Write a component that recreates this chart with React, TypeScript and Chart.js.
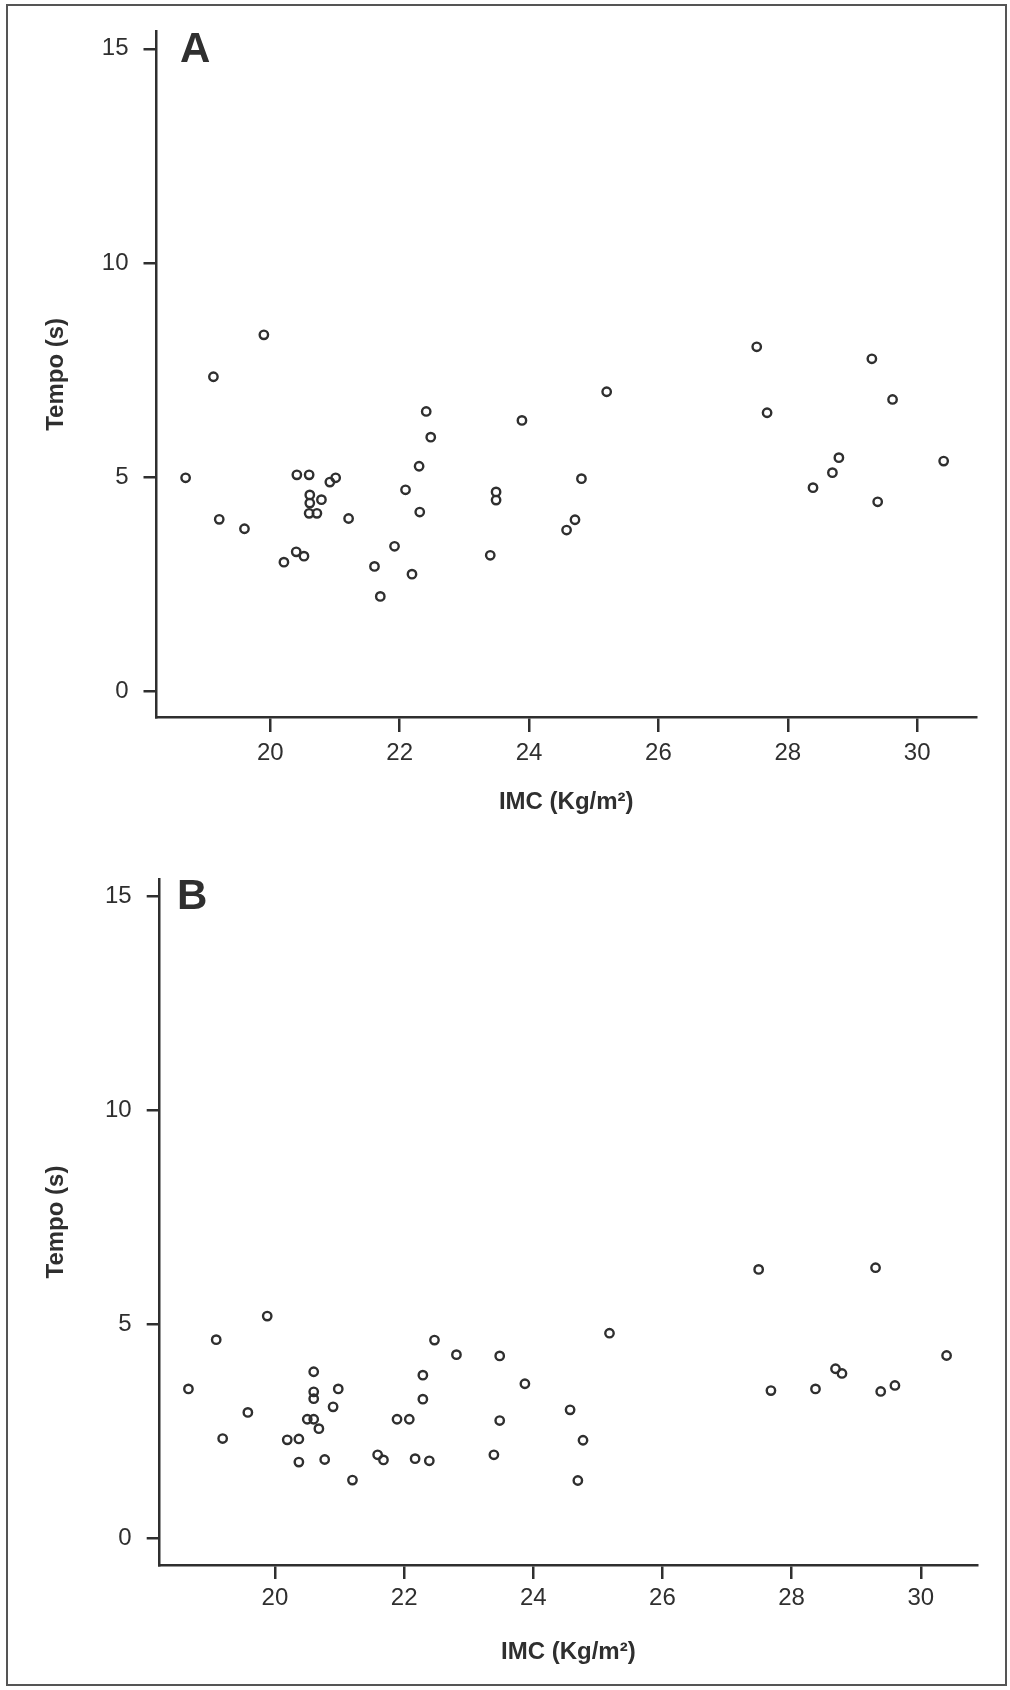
import React, { useEffect, useRef } from 'react';
import { Chart, registerables } from 'chart.js';

Chart.register(...registerables);

// ---- Data ----
const xTicks = [20, 22, 24, 26, 28, 30];
const yTicks = [0, 5, 10, 15];
const xTitle = 'IMC (Kg/m²)';
const yTitle = 'Tempo (s)';
const panelLetters = ['A', 'B'];

const imcA = [18.69, 19.12, 19.21, 19.6, 19.9, 20.21, 20.4, 20.52, 20.41, 20.6, 20.61, 20.61, 20.79, 20.6, 20.72, 20.92, 21.01, 21.21, 21.61, 21.7, 21.92, 22.19, 22.09, 22.3, 22.31, 22.41, 22.48, 23.4, 23.49, 23.49, 23.89, 24.58, 24.71, 24.81, 25.2, 27.52, 27.68, 28.39, 28.69, 28.79, 29.3, 29.62, 29.39, 30.41];
const tempoA = [4.98, 7.34, 4.01, 3.79, 8.32, 3.01, 3.25, 3.15, 5.05, 5.05, 4.58, 4.39, 4.47, 4.15, 4.15, 4.88, 4.98, 4.03, 2.91, 2.21, 3.38, 2.73, 4.7, 5.25, 4.18, 6.53, 5.93, 3.17, 4.65, 4.46, 6.32, 3.76, 4.0, 4.96, 6.99, 8.04, 6.5, 4.75, 5.1, 5.45, 7.76, 6.81, 4.42, 5.37];

const imcB = [19.88, 19.09, 18.66, 19.58, 19.19, 20.19, 20.37, 20.37, 20.5, 20.6, 20.6, 20.6, 20.6, 20.68, 20.77, 20.9, 20.98, 21.2, 21.59, 21.68, 21.89, 22.08, 22.17, 22.29, 22.29, 22.39, 22.47, 22.81, 23.39, 23.48, 23.48, 23.87, 24.57, 24.77, 24.69, 25.18, 27.49, 27.68, 28.37, 28.68, 28.78, 29.3, 29.38, 29.6, 30.4];
const tempoB = [5.19, 4.64, 3.49, 2.94, 2.33, 2.3, 2.32, 1.78, 2.78, 2.78, 3.89, 3.42, 3.26, 2.56, 1.84, 3.07, 3.49, 1.36, 1.95, 1.83, 2.78, 2.78, 1.86, 3.81, 3.25, 1.81, 4.63, 4.29, 1.95, 4.26, 2.75, 3.61, 3.0, 2.29, 1.35, 4.79, 6.28, 3.45, 3.49, 3.96, 3.85, 6.32, 3.43, 3.57, 4.27];

const FONT = "'Liberation Sans', Arial, Helvetica, sans-serif";
const INK = '#2f2f2f';

type Geom = {
  top: number;
  padTop: number;
  padRight: number;
  yAxisW: number;
  xAxisH: number;
  xMin: number;
  xMax: number;
  yMin: number;
  yMax: number;
  xTickLen: number;
  xTickPad: number;
  yTickLen: number;
  yTickPad: number;
  xTitlePadBottom: number;
  yTitlePadTop: number;
  letterX: number;
  letterY: number;
};

const geomA: Geom = {
  top: 0, padTop: 31.7, padRight: 34, yAxisW: 156.5, xAxisH: 128,
  xMin: 18.24, xMax: 30.91, yMin: -0.607, yMax: 15.4,
  xTickLen: 15, xTickPad: 6.5, yTickLen: 13, yTickPad: 15,
  xTitlePadBottom: 28.6, yTitlePadTop: 42, letterX: 180, letterY: 62,
};

const geomB: Geom = {
  top: 845, padTop: 34, padRight: 33, yAxisW: 159.7, xAxisH: 125,
  xMin: 18.215, xMax: 30.871, yMin: -0.624, yMax: 15.4,
  xTickLen: 14, xTickPad: 4.5, yTickLen: 13, yTickPad: 15,
  xTitlePadBottom: 23.6, yTitlePadTop: 42, letterX: 177, letterY: 64,
};

const W = 1010;
const H = 845;

function Panel({ xs, ys, letter, geom }: { xs: number[]; ys: number[]; letter: string; geom: Geom }) {
  const ref = useRef<HTMLCanvasElement>(null);

  useEffect(() => {
    const canvas = ref.current;
    if (!canvas) return;

    const letterPlugin = {
      id: 'panelLetter',
      afterDraw(chart: any) {
        const ctx = chart.ctx;
        ctx.save();
        ctx.font = `bold 42px ${FONT}`;
        ctx.fillStyle = INK;
        ctx.textAlign = 'left';
        ctx.textBaseline = 'alphabetic';
        ctx.fillText(letter, geom.letterX, geom.letterY);
        ctx.restore();
      },
    };

    const chart = new Chart(canvas, {
      type: 'scatter',
      data: {
        datasets: [
          {
            data: xs.map((x, i) => ({ x, y: ys[i] })),
            pointStyle: 'circle',
            pointRadius: 4.2,
            pointHoverRadius: 4.2,
            borderWidth: 2.4,
            borderColor: INK,
            backgroundColor: 'rgba(0,0,0,0)',
          },
        ],
      },
      options: {
        animation: false,
        responsive: false,
        events: [],
        layout: { padding: { top: geom.padTop, right: geom.padRight, left: 0, bottom: 0 } },
        plugins: { legend: { display: false }, tooltip: { enabled: false } },
        scales: {
          x: {
            type: 'linear',
            position: 'bottom',
            min: geom.xMin,
            max: geom.xMax,
            afterBuildTicks: (s: any) => {
              s.ticks = xTicks.map((v) => ({ value: v }));
            },
            afterFit: (s: any) => {
              s.height = geom.xAxisH;
            },
            ticks: {
              color: INK,
              font: { family: FONT, size: 24 },
              padding: geom.xTickPad,
              maxRotation: 0,
              autoSkip: false,
              callback: (v: any) => String(v),
            },
            grid: {
              display: true,
              drawOnChartArea: false,
              drawTicks: true,
              tickLength: geom.xTickLen,
              color: INK,
              lineWidth: 2.5,
              tickWidth: 2.5,
            },
            border: { display: true, color: INK, width: 2.5 },
            title: {
              display: true,
              text: xTitle,
              color: INK,
              font: { family: FONT, size: 24, weight: 'bold' },
              padding: { top: 0, bottom: geom.xTitlePadBottom },
            },
          },
          y: {
            type: 'linear',
            position: 'left',
            min: geom.yMin,
            max: geom.yMax,
            afterBuildTicks: (s: any) => {
              s.ticks = yTicks.map((v) => ({ value: v }));
            },
            afterFit: (s: any) => {
              s.width = geom.yAxisW;
            },
            ticks: {
              color: INK,
              font: { family: FONT, size: 24 },
              padding: geom.yTickPad,
              autoSkip: false,
              callback: (v: any) => String(v),
            },
            grid: {
              display: true,
              drawOnChartArea: false,
              drawTicks: true,
              tickLength: geom.yTickLen,
              color: INK,
              lineWidth: 2.5,
              tickWidth: 2.5,
            },
            border: { display: true, color: INK, width: 2.5 },
            title: {
              display: true,
              text: yTitle,
              color: INK,
              font: { family: FONT, size: 24, weight: 'bold' },
              padding: { top: geom.yTitlePadTop, bottom: 0 },
            },
          },
        },
      },
      plugins: [letterPlugin],
    } as any);

    return () => chart.destroy();
  }, []);

  return (
    <canvas
      ref={ref}
      width={W}
      height={H}
      style={{ position: 'absolute', left: 0, top: geom.top, width: W, height: H, display: 'block' }}
    />
  );
}

export default function App() {
  return (
    <div style={{ position: 'absolute', left: 0, top: 0, width: 1010, height: 1690, background: '#ffffff', overflow: 'hidden' }}>
      <Panel xs={imcA} ys={tempoA} letter={panelLetters[0]} geom={geomA} />
      <Panel xs={imcB} ys={tempoB} letter={panelLetters[1]} geom={geomB} />
      <div
        style={{
          position: 'absolute',
          left: 6,
          top: 4,
          width: 1001,
          height: 1682,
          boxSizing: 'border-box',
          border: '2px solid #555555',
          pointerEvents: 'none',
        }}
      />
    </div>
  );
}
